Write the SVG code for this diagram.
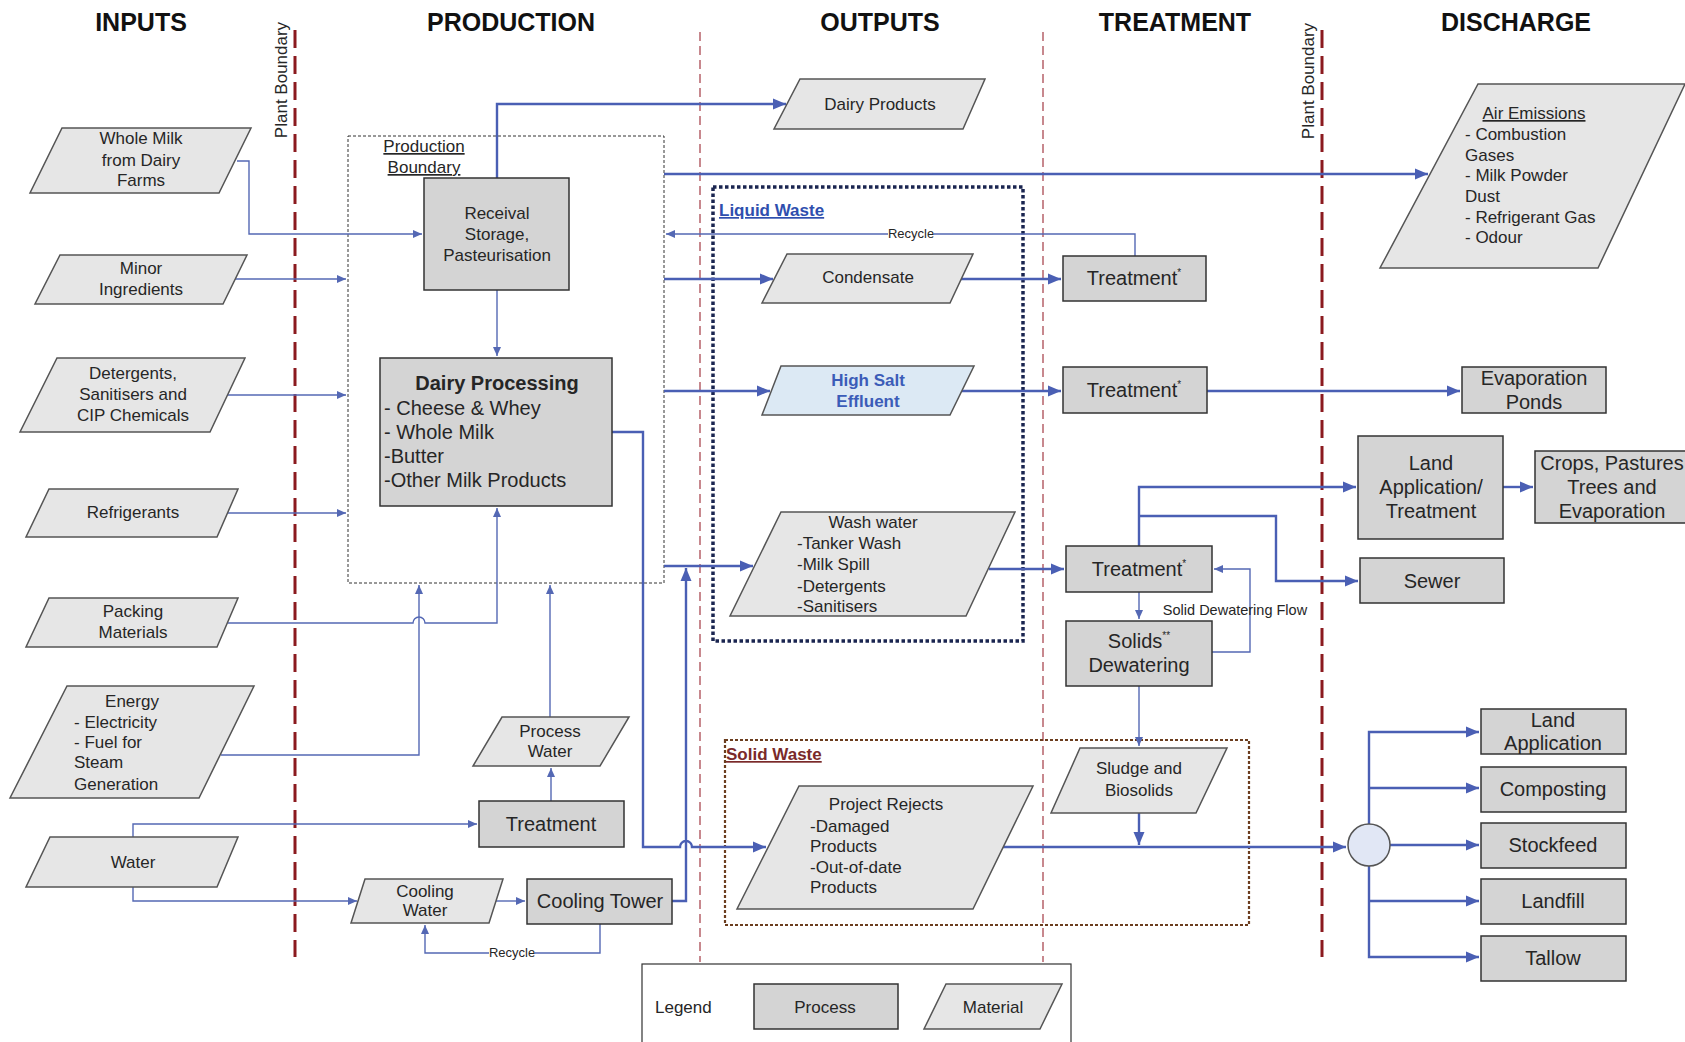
<svg xmlns="http://www.w3.org/2000/svg" width="1685" height="1042" viewBox="0 0 1685 1042">
<defs>
<style>
text{font-family:"Liberation Sans",Arial,sans-serif;fill:#262626;}
.title{font-size:25px;font-weight:bold;text-anchor:middle;fill:#111;}
.m{font-size:17px;text-anchor:middle;}
.ml{font-size:17px;}
.p{font-size:20px;text-anchor:middle;}
.pl{font-size:20px;}
.sm{font-size:13px;text-anchor:middle;}
.mat{fill:#e6e6e6;stroke:#555;stroke-width:1.5;}
.proc{fill:#d4d4d4;stroke:#333;stroke-width:1.5;}
.thin{fill:none;stroke:#5468b4;stroke-width:1.4;marker-end:url(#a1);}
.thin0{fill:none;stroke:#5468b4;stroke-width:1.4;}
.thick{fill:none;stroke:#4a5fb4;stroke-width:2.4;marker-end:url(#a2);}
.thick0{fill:none;stroke:#4a5fb4;stroke-width:2.4;}
.pb{stroke:#8b1a1f;stroke-width:3;stroke-dasharray:18,8;fill:none;}
.cb{stroke:#a33a44;stroke-width:1.2;stroke-dasharray:9,5;fill:none;}
</style>
<marker id="a1" markerUnits="userSpaceOnUse" markerWidth="10" markerHeight="10" refX="9" refY="5" orient="auto"><path d="M0,1 L9,5 L0,9 Z" fill="#5468b4"/></marker>
<marker id="a2" markerUnits="userSpaceOnUse" markerWidth="14" markerHeight="14" refX="13" refY="7" orient="auto"><path d="M0,1.5 L13,7 L0,12.5 Z" fill="#4a5fb4"/></marker>
</defs>
<rect width="1685" height="1042" fill="#fff"/>

<g id="titles">
<text class="title" x="141" y="31">INPUTS</text>
<text class="title" x="511" y="31">PRODUCTION</text>
<text class="title" x="880" y="31">OUTPUTS</text>
<text class="title" x="1175" y="31">TREATMENT</text>
<text class="title" x="1516" y="31">DISCHARGE</text>
</g>

<g id="boundaries">
<line class="pb" x1="295" y1="30" x2="295" y2="957"/>
<line class="pb" x1="1322" y1="30" x2="1322" y2="957"/>
<line class="cb" x1="700" y1="32" x2="700" y2="962"/>
<line class="cb" x1="1043" y1="32" x2="1043" y2="962"/>
<text class="ml" transform="translate(287,80) rotate(-90)" text-anchor="middle">Plant Boundary</text>
<text class="ml" transform="translate(1314,81) rotate(-90)" text-anchor="middle">Plant Boundary</text>
<rect x="348" y="136" width="316" height="447" fill="none" stroke="#333" stroke-width="1" stroke-dasharray="3,2"/>
<text class="m" x="424" y="152" text-decoration="underline">Production</text>
<text class="m" x="424" y="173" text-decoration="underline">Boundary</text>
<rect x="713" y="187" width="310" height="454" fill="none" stroke="#1a2550" stroke-width="3.5" stroke-dasharray="3.5,2.5"/>
<text x="719" y="216" font-size="17" font-weight="bold" fill="#2f4fae" style="fill:#2f4fae" text-decoration="underline">Liquid Waste</text>
<rect x="725" y="740" width="524" height="185" fill="none" stroke="#6b3d1e" stroke-width="2.2" stroke-dasharray="3,2"/>
<text x="726" y="760" font-size="17" font-weight="bold" style="fill:#7a2a2a" text-decoration="underline">Solid Waste</text>
</g>

<g id="connectors">
<path class="thin" d="M237,161 H249 V234 H422"/>
<path class="thin" d="M235,279 H346"/>
<path class="thin" d="M228,395 H346"/>
<path class="thin" d="M228,513 H346"/>
<path class="thin" d="M228,623 H413 A6,6 0 0 1 425,623 H497 V508"/>
<path class="thin" d="M221,755 H419 V585"/>
<path class="thin" d="M133,837 V824 H477"/>
<path class="thin" d="M133,887 V901 H357"/>
<path class="thin" d="M551,801 V768"/>
<path class="thin" d="M550,717 V585"/>
<path class="thin" d="M496,901 H525"/>
<path class="thin" d="M600,924 V953 H425 V925"/>
<path class="thin" d="M497,290 V356"/>
<path class="thin" d="M1135,256 V234 H666"/>
<path class="thin" d="M1139,592 V619"/>
<path class="thin" d="M1212,652 H1250 V569 H1214"/>
<path class="thin" d="M1139,686 V746"/>
<path class="thick" d="M497,178 V104 H786"/>
<path class="thick" d="M664,174 H1428" stroke-width="2"/>
<path class="thick" d="M664,279 H773"/>
<path class="thick" d="M961,279 H1061"/>
<path class="thick" d="M664,391 H770"/>
<path class="thick" d="M962,391 H1061"/>
<path class="thick" d="M1207,391 H1460"/>
<path class="thick" d="M664,566 H753"/>
<path class="thick" d="M989,569 H1064"/>
<path class="thick" d="M1139,546 V487 H1356"/>
<path class="thick" d="M1139,516 H1276 V581 H1358"/>
<path class="thick" d="M1503,487 H1533"/>
<path class="thick" d="M612,432 H643 V847 H680 A6,6 0 0 1 692,847 H766"/>
<path class="thick" d="M672,901 H686 V568"/>
<path class="thick" d="M1003,847 H1346"/>
<path class="thick" d="M1139,813 V845"/>
<path class="thick" d="M1369,824 V732 H1479"/>
<path class="thick" d="M1369,788 H1479"/>
<path class="thick" d="M1390,845 H1479"/>
<path class="thick" d="M1369,866 V957 H1479"/>
<path class="thick" d="M1369,901 H1479"/>
<rect x="888" y="226" width="46" height="15" fill="#fff"/>
<text class="sm" x="911" y="238">Recycle</text>
<rect x="489" y="945" width="46" height="15" fill="#fff"/>
<text class="sm" x="512" y="957">Recycle</text>
<text x="1235" y="615" font-size="14.5" text-anchor="middle">Solid Dewatering Flow</text>
</g>

<g id="whole-milk"><path class="mat" d="M62,128 L251,128 L219,193 L30,193 Z"/>
<text class="m" x="141" y="144">Whole Milk</text><text class="m" x="141" y="166">from Dairy</text><text class="m" x="141" y="186">Farms</text></g>
<g id="minor"><path class="mat" d="M60,255 L247,255 L223,304 L35,304 Z"/>
<text class="m" x="141" y="274">Minor</text><text class="m" x="141" y="295">Ingredients</text></g>
<g id="detergents"><path class="mat" d="M57,358 L245,358 L210,432 L20,432 Z"/>
<text class="m" x="133" y="379">Detergents,</text><text class="m" x="133" y="400">Sanitisers and</text><text class="m" x="133" y="421">CIP Chemicals</text></g>
<g id="refrigerants"><path class="mat" d="M49,489 L238,489 L217,537 L26,537 Z"/>
<text class="m" x="133" y="518">Refrigerants</text></g>
<g id="packing"><path class="mat" d="M49,598 L238,598 L217,647 L26,647 Z"/>
<text class="m" x="133" y="617">Packing</text><text class="m" x="133" y="638">Materials</text></g>
<g id="energy"><path class="mat" d="M67,686 L254,686 L199,798 L10,798 Z"/>
<text class="m" x="132" y="707">Energy</text><text class="ml" x="74" y="728">- Electricity</text><text class="ml" x="74" y="748">- Fuel for</text><text class="ml" x="74" y="768">Steam</text><text class="ml" x="74" y="790">Generation</text></g>
<g id="water"><path class="mat" d="M50,837 L238,837 L217,887 L26,887 Z"/>
<text class="m" x="133" y="868">Water</text></g>

<g id="receival"><rect class="proc" x="424" y="178" width="145" height="112"/>
<text class="m" x="497" y="219">Receival</text><text class="m" x="497" y="240">Storage,</text><text class="m" x="497" y="261">Pasteurisation</text></g>
<g id="dairy-processing"><rect class="proc" x="380" y="358" width="232" height="148"/>
<text x="497" y="390" font-size="20" font-weight="bold" text-anchor="middle">Dairy Processing</text>
<text class="pl" x="384" y="415">- Cheese &amp; Whey</text><text class="pl" x="384" y="439">- Whole Milk</text><text class="pl" x="384" y="463">-Butter</text><text class="pl" x="384" y="487">-Other Milk Products</text></g>
<g id="process-water"><path class="mat" d="M502,717 L629,717 L600,766 L473,766 Z"/>
<text class="m" x="550" y="737">Process</text><text class="m" x="550" y="757">Water</text></g>
<g id="water-treatment"><rect class="proc" x="479" y="801" width="145" height="46"/>
<text class="p" x="551" y="831">Treatment</text></g>
<g id="cooling-water"><path class="mat" d="M365,879 L503,879 L489,923 L351,923 Z"/>
<text class="m" x="425" y="897">Cooling</text><text class="m" x="425" y="916">Water</text></g>
<g id="cooling-tower"><rect class="proc" x="527" y="879" width="145" height="45"/>
<text class="p" x="600" y="908">Cooling Tower</text></g>

<g id="dairy-products"><path class="mat" d="M800,79 L985,79 L963,129 L774,129 Z"/>
<text class="m" x="880" y="110">Dairy Products</text></g>
<g id="air-emissions"><path class="mat" d="M1478,84 L1685,84 L1598,268 L1380,268 Z"/>
<text class="m" x="1534" y="119" text-decoration="underline">Air Emissions</text>
<text class="ml" x="1465" y="140">- Combustion</text><text class="ml" x="1465" y="161">Gases</text><text class="ml" x="1465" y="181">- Milk Powder</text><text class="ml" x="1465" y="202">Dust</text><text class="ml" x="1465" y="223">- Refrigerant Gas</text><text class="ml" x="1465" y="243">- Odour</text></g>
<g id="condensate"><path class="mat" d="M787,254 L973,254 L950,303 L762,303 Z"/>
<text class="m" x="868" y="283">Condensate</text></g>
<g id="high-salt"><path d="M781,366 L974,366 L950,415 L762,415 Z" fill="#dce9f4" stroke="#555" stroke-width="1.5"/>
<text x="868" y="386" font-size="17" font-weight="bold" text-anchor="middle" style="fill:#3b5cb8">High Salt</text><text x="868" y="407" font-size="17" font-weight="bold" text-anchor="middle" style="fill:#3b5cb8">Effluent</text></g>
<g id="wash-water"><path class="mat" d="M781,512 L1015,512 L966,616 L730,616 Z"/>
<text class="m" x="873" y="528">Wash water</text><text class="ml" x="797" y="549">-Tanker Wash</text><text class="ml" x="797" y="570">-Milk Spill</text><text class="ml" x="797" y="592">-Detergents</text><text class="ml" x="797" y="612">-Sanitisers</text></g>
<g id="project-rejects"><path class="mat" d="M799,786 L1033,786 L973,909 L737,909 Z"/>
<text class="m" x="886" y="810">Project Rejects</text><text class="ml" x="810" y="832">-Damaged</text><text class="ml" x="810" y="852">Products</text><text class="ml" x="810" y="873">-Out-of-date</text><text class="ml" x="810" y="893">Products</text></g>

<g id="treatment-1"><rect class="proc" x="1063" y="256" width="143" height="45"/>
<text class="p" x="1134" y="285">Treatment<tspan font-size="10" dy="-9">*</tspan></text></g>
<g id="treatment-2"><rect class="proc" x="1063" y="367" width="144" height="46"/>
<text class="p" x="1134" y="397">Treatment<tspan font-size="10" dy="-9">*</tspan></text></g>
<g id="treatment-3"><rect class="proc" x="1066" y="546" width="146" height="46"/>
<text class="p" x="1139" y="576">Treatment<tspan font-size="10" dy="-9">*</tspan></text></g>
<g id="solids-dewatering"><rect class="proc" x="1066" y="621" width="146" height="65"/>
<text class="p" x="1139" y="648">Solids<tspan font-size="10" dy="-9">**</tspan></text><text class="p" x="1139" y="672">Dewatering</text></g>
<g id="sludge"><path class="mat" d="M1080,748 L1227,748 L1196,813 L1051,813 Z"/>
<text class="m" x="1139" y="774">Sludge and</text><text class="m" x="1139" y="796">Biosolids</text></g>

<g id="evaporation-ponds"><rect class="proc" x="1462" y="367" width="144" height="46"/>
<text class="p" x="1534" y="385">Evaporation</text><text class="p" x="1534" y="409">Ponds</text></g>
<g id="land-app-treatment"><rect class="proc" x="1358" y="436" width="145" height="103"/>
<text class="p" x="1431" y="470">Land</text><text class="p" x="1431" y="494">Application/</text><text class="p" x="1431" y="518">Treatment</text></g>
<g id="crops"><rect class="proc" x="1535" y="451" width="152" height="72"/>
<text class="p" x="1612" y="470">Crops, Pastures</text><text class="p" x="1612" y="494">Trees and</text><text class="p" x="1612" y="518">Evaporation</text></g>
<g id="sewer"><rect class="proc" x="1360" y="558" width="144" height="45"/>
<text class="p" x="1432" y="588">Sewer</text></g>
<g id="splitter"><circle cx="1369" cy="845" r="21" fill="#e1e7f5" stroke="#555" stroke-width="1.5"/></g>
<g id="land-application"><rect class="proc" x="1481" y="709" width="145" height="45"/>
<text class="p" x="1553" y="727">Land</text><text class="p" x="1553" y="750">Application</text></g>
<g id="composting"><rect class="proc" x="1481" y="767" width="145" height="45"/>
<text class="p" x="1553" y="796">Composting</text></g>
<g id="stockfeed"><rect class="proc" x="1481" y="823" width="145" height="45"/>
<text class="p" x="1553" y="852">Stockfeed</text></g>
<g id="landfill"><rect class="proc" x="1481" y="879" width="145" height="45"/>
<text class="p" x="1553" y="908">Landfill</text></g>
<g id="tallow"><rect class="proc" x="1481" y="936" width="145" height="45"/>
<text class="p" x="1553" y="965">Tallow</text></g>

<g id="legend"><rect x="642" y="964" width="429" height="90" fill="#fff" stroke="#333" stroke-width="1.2"/>
<text class="ml" x="655" y="1013">Legend</text>
<rect class="proc" x="754" y="984" width="144" height="45"/>
<text class="m" x="825" y="1013">Process</text>
<path class="mat" d="M946,984 L1062,984 L1040,1029 L924,1029 Z"/>
<text class="m" x="993" y="1013">Material</text></g>
</svg>
